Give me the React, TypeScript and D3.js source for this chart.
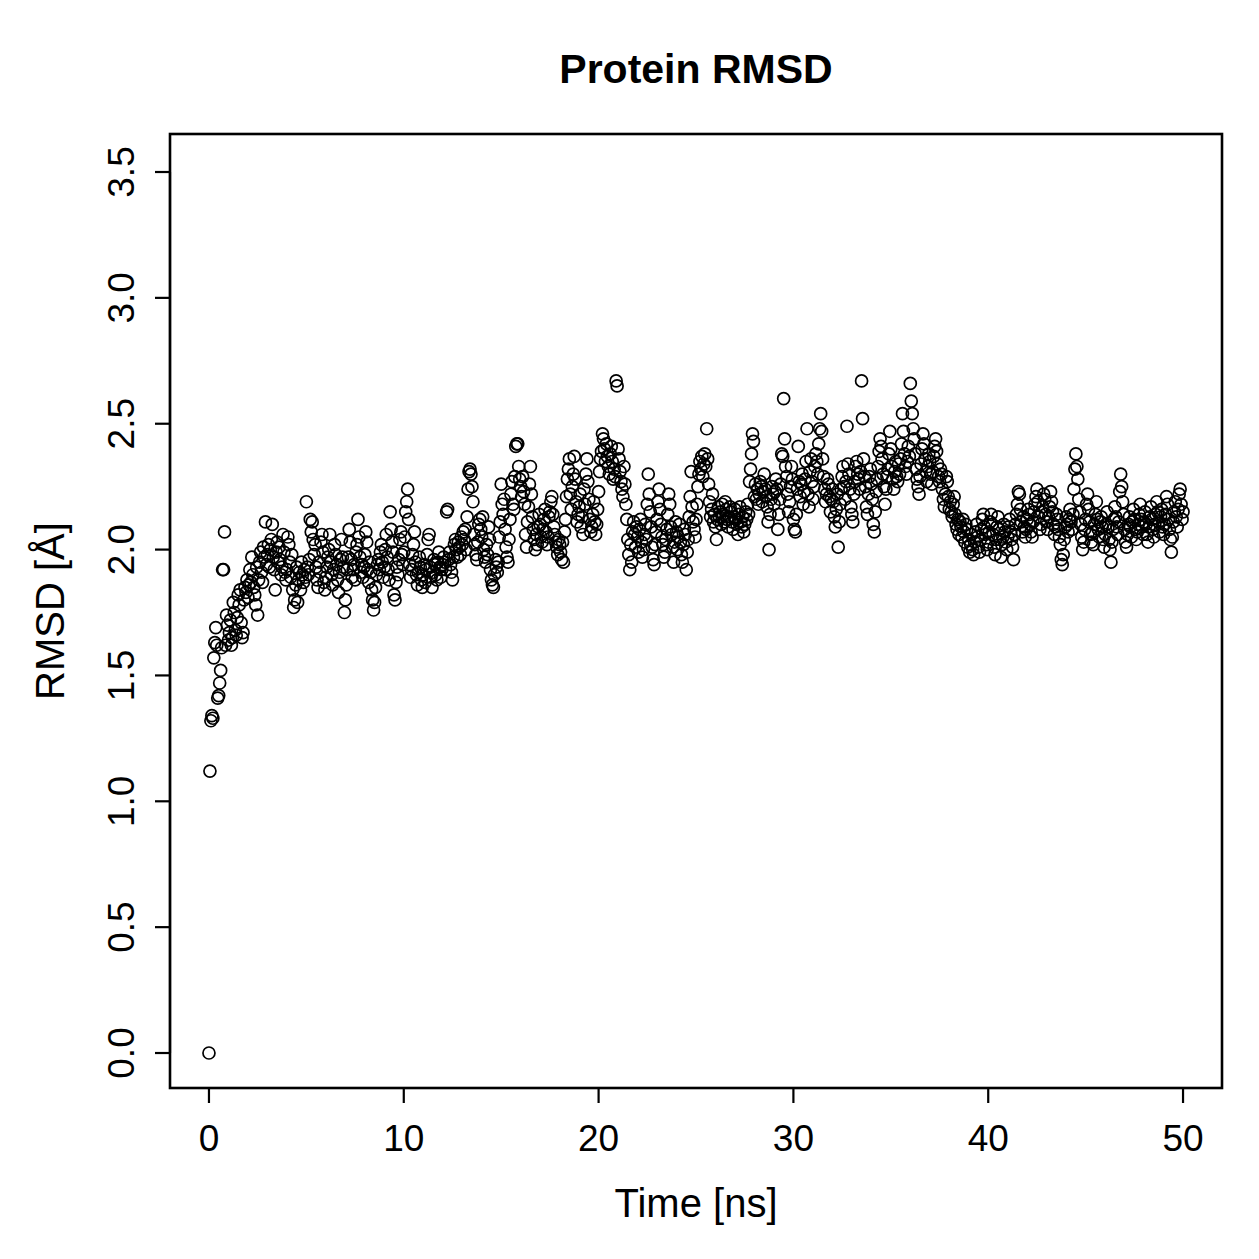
import React from "react";
import * as d3 from "d3";

// Simulation time step (ns) between RMSD frames
const TIME_STEP = 0.05;

// Backbone RMSD (Å) per frame, 20 frames per ns
const rmsd: number[] = [
  0.00,1.12,1.32,1.34,1.33,1.57,1.63,1.69,1.62,1.41,1.42,1.47,1.52,1.61,1.92,1.92,2.07,1.62,1.74,1.70,
  1.64,1.67,1.72,1.62,1.65,1.79,1.75,1.68,1.66,1.73,1.82,1.78,1.84,1.71,1.65,1.67,1.80,1.85,1.83,1.88,
  1.81,1.86,1.92,1.87,1.97,1.90,1.85,1.82,1.78,1.93,1.74,1.88,1.95,1.99,1.91,1.87,2.01,1.97,2.11,1.94,
  1.98,2.02,1.93,2.00,2.04,2.10,1.97,1.92,1.84,1.99,2.03,1.95,2.01,1.96,1.90,1.93,2.06,1.99,1.91,1.88,
  1.92,2.05,2.02,1.95,1.89,1.98,1.84,1.77,1.80,1.86,1.93,1.79,1.88,1.91,1.84,1.95,1.90,1.87,1.92,1.89,
  2.19,1.93,1.90,1.96,2.12,2.07,2.11,2.04,1.98,2.02,1.93,1.88,1.85,1.95,1.91,2.03,2.06,1.99,1.87,1.84,
  1.89,1.93,1.97,2.00,2.06,1.95,1.90,1.86,1.92,2.02,1.98,1.94,1.88,1.83,1.91,1.96,2.04,1.97,1.93,1.75,
  1.80,1.86,1.92,1.97,2.08,2.03,1.96,1.89,1.92,1.94,1.88,1.99,2.02,2.12,2.05,1.97,1.91,1.94,1.89,1.93,
  1.98,2.07,2.03,1.92,1.87,1.95,1.91,1.84,1.80,1.76,1.79,1.85,1.90,1.94,1.96,1.92,1.99,2.02,1.95,1.89,
  1.93,2.00,2.06,1.97,1.92,1.88,2.15,2.08,2.03,1.99,1.82,1.80,1.87,1.93,1.90,1.96,2.04,2.07,1.98,1.94,
  1.99,2.05,2.15,2.19,2.24,2.12,1.94,1.89,1.92,1.98,2.02,2.07,1.95,1.90,1.86,1.91,1.97,1.93,1.88,1.85,
  1.90,1.94,1.87,1.92,1.98,2.04,2.06,1.93,1.89,1.85,1.91,1.96,1.94,1.90,1.88,1.95,1.99,1.93,1.89,1.92,
  1.94,1.97,1.95,1.92,2.15,2.16,1.96,1.99,1.94,1.91,1.88,1.97,2.02,2.04,2.00,1.97,2.03,2.01,1.98,2.05,
  2.02,2.07,2.04,2.08,2.00,2.13,2.24,2.31,2.32,2.30,2.25,2.19,2.06,2.02,1.98,1.96,2.03,2.10,2.12,2.08,
  2.05,2.13,2.00,1.97,1.95,2.02,1.98,2.09,2.04,1.92,1.88,1.86,1.85,1.90,1.96,1.93,1.91,1.95,2.05,2.11,
  2.26,2.18,2.14,2.20,2.08,2.01,1.97,1.95,2.04,2.12,2.22,2.27,2.18,2.16,2.29,2.41,2.42,2.42,2.33,2.28,
  2.25,2.21,2.29,2.23,2.18,2.06,2.01,2.11,2.17,2.26,2.33,2.22,2.13,2.08,2.04,2.00,2.06,2.02,2.09,2.14,
  2.10,2.05,2.03,2.08,2.12,2.16,2.07,2.02,2.05,2.13,2.15,2.19,2.21,2.14,2.09,2.06,2.03,2.01,1.98,2.04,
  2.02,1.99,1.96,2.03,1.95,2.07,2.12,2.21,2.28,2.32,2.36,2.22,2.16,2.25,2.30,2.37,2.28,2.19,2.11,2.14,
  2.17,2.22,2.09,2.13,2.06,2.24,2.18,2.30,2.36,2.27,2.20,2.12,2.07,2.09,2.14,2.19,2.11,2.06,2.10,2.16,
  2.23,2.31,2.36,2.39,2.46,2.44,2.40,2.35,2.42,2.37,2.33,2.30,2.38,2.41,2.35,2.28,2.32,2.29,2.67,2.65,
  2.40,2.36,2.31,2.27,2.24,2.21,2.33,2.26,2.18,2.12,2.04,1.98,1.92,2.02,1.95,2.07,2.11,2.06,2.01,2.09,
  2.05,1.99,2.08,2.12,2.03,1.97,2.00,2.06,2.10,2.04,2.18,2.30,2.22,2.15,2.09,2.01,1.96,1.94,2.02,2.07,
  2.12,2.19,2.24,2.16,2.10,2.05,2.02,1.97,1.99,2.04,2.08,2.14,2.22,2.18,2.09,2.06,2.01,1.95,2.03,2.11,
  2.07,2.00,2.05,2.10,2.03,1.98,1.95,2.02,2.08,2.06,1.92,1.99,2.04,2.13,2.21,2.31,2.17,2.11,2.08,2.05,
  2.12,2.18,2.25,2.30,2.35,2.32,2.37,2.29,2.34,2.38,2.33,2.48,2.36,2.26,2.19,2.13,2.16,2.22,2.11,2.14,
  2.09,2.04,2.12,2.17,2.13,2.15,2.10,2.18,2.14,2.11,2.19,2.16,2.12,2.09,2.13,2.17,2.15,2.11,2.08,2.13,
  2.16,2.12,2.10,2.06,2.14,2.17,2.11,2.09,2.13,2.07,2.10,2.15,2.12,2.18,2.14,2.27,2.32,2.38,2.46,2.43,
  2.21,2.26,2.20,2.24,2.18,2.22,2.27,2.25,2.19,2.23,2.30,2.24,2.21,2.17,2.11,2.00,2.14,2.20,2.25,2.22,
  2.18,2.23,2.28,2.24,2.08,2.14,2.20,2.26,2.38,2.37,2.60,2.44,2.33,2.29,2.22,2.15,2.19,2.25,2.33,2.28,
  2.12,2.08,2.07,2.14,2.24,2.41,2.27,2.21,2.26,2.30,2.18,2.23,2.28,2.35,2.48,2.22,2.17,2.31,2.36,2.27,
  2.20,2.25,2.33,2.38,2.35,2.30,2.42,2.48,2.54,2.47,2.36,2.29,2.24,2.19,2.22,2.28,2.26,2.21,2.15,2.20,
  2.24,2.19,2.13,2.09,2.16,2.22,2.01,2.11,2.18,2.24,2.29,2.33,2.25,2.20,2.27,2.49,2.34,2.30,2.24,2.17,
  2.14,2.11,2.22,2.27,2.33,2.35,2.30,2.28,2.24,2.31,2.67,2.52,2.36,2.29,2.25,2.17,2.14,2.22,2.29,2.32,
  2.26,2.20,2.10,2.07,2.15,2.23,2.28,2.33,2.39,2.44,2.41,2.36,2.30,2.25,2.18,2.24,2.29,2.32,2.38,2.47,
  2.40,2.33,2.28,2.24,2.31,2.35,2.29,2.27,2.34,2.30,2.36,2.42,2.54,2.47,2.38,2.33,2.30,2.35,2.41,2.37,
  2.66,2.59,2.54,2.48,2.44,2.38,2.32,2.28,2.25,2.22,2.29,2.34,2.40,2.46,2.42,2.36,2.31,2.27,2.33,2.38,
  2.35,2.30,2.26,2.31,2.37,2.41,2.44,2.39,2.34,2.29,2.27,2.32,2.30,2.24,2.20,2.17,2.22,2.29,2.27,2.21,
  2.16,2.19,2.15,2.13,2.18,2.21,2.14,2.10,2.08,2.12,2.06,2.11,2.09,2.05,2.12,2.07,2.03,2.10,2.08,2.01,
  2.04,1.99,2.02,2.06,2.00,1.98,2.03,2.07,2.10,2.05,2.01,1.99,2.04,2.08,2.12,2.14,2.09,2.06,2.02,2.00,
  2.03,2.07,2.11,2.14,2.10,2.06,2.01,1.98,2.04,2.09,2.13,2.08,2.04,1.97,2.02,2.05,2.10,2.07,2.03,2.00,
  2.05,2.09,2.12,2.07,2.04,2.01,1.96,2.06,2.10,2.14,2.18,2.23,2.22,2.16,2.11,2.07,2.13,2.09,2.05,2.08,
  2.12,2.16,2.14,2.10,2.07,2.05,2.11,2.15,2.18,2.21,2.24,2.19,2.13,2.08,2.10,2.15,2.17,2.22,2.20,2.14,
  2.11,2.08,2.13,2.17,2.23,2.19,2.15,2.10,2.06,2.09,2.14,2.12,2.08,2.05,2.02,1.96,1.94,1.98,2.04,2.09,
  2.13,2.10,2.07,2.12,2.16,2.11,2.08,2.14,2.24,2.32,2.38,2.33,2.28,2.20,2.15,2.10,2.05,2.00,2.03,2.08,
  2.12,2.18,2.22,2.16,2.11,2.06,2.03,2.07,2.02,2.10,2.14,2.19,2.12,2.08,2.05,2.11,2.13,2.09,2.04,2.01,
  2.06,2.10,2.15,2.09,2.04,2.00,1.95,2.03,2.08,2.12,2.17,2.13,2.09,2.06,2.11,2.23,2.30,2.25,2.19,2.14,
  2.08,2.03,2.01,2.06,2.10,2.13,2.09,2.05,2.11,2.16,2.12,2.08,2.04,2.07,2.10,2.14,2.18,2.12,2.09,2.06,
  2.11,2.15,2.10,2.06,2.03,2.09,2.13,2.17,2.12,2.08,2.05,2.10,2.14,2.19,2.15,2.11,2.07,2.13,2.16,2.09,
  2.06,2.10,2.14,2.21,2.18,2.12,2.08,2.04,1.99,2.05,2.11,2.15,2.19,2.13,2.09,2.16,2.22,2.24,2.18,2.12,
  2.15,
];

const xTicks = [0, 10, 20, 30, 40, 50];
const yTicks = [0.0, 0.5, 1.0, 1.5, 2.0, 2.5, 3.0, 3.5];

const title = "Protein RMSD";
const xLabel = "Time [ns]";
const yLabel = "RMSD [Å]";

const W = 1259;
const H = 1259;
const plot = { left: 170, right: 1222, top: 134, bottom: 1088 };
const FONT = "'Liberation Sans', Arial, Helvetica, sans-serif";

export default function App() {
  const x = d3.scaleLinear().domain([-2, 52]).range([plot.left, plot.right]);
  const y = d3.scaleLinear().domain([-0.139, 3.651]).range([plot.bottom, plot.top]);

  const points = rmsd.map((v, i) => ({ t: i * TIME_STEP, v }));
  const tickLen = 15;

  return (
    <svg
      width={W}
      height={H}
      viewBox={`0 0 ${W} ${H}`}
      style={{ position: "absolute", left: 0, top: 0, background: "#fff" }}
    >
      <rect x={0} y={0} width={W} height={H} fill="#fff" />

      {/* data points */}
      <g fill="none" stroke="#000" strokeWidth={1.7}>
        {points.map((p, i) => (
          <circle key={i} cx={x(p.t)} cy={y(p.v)} r={6} />
        ))}
      </g>

      {/* plot frame */}
      <rect
        x={plot.left}
        y={plot.top}
        width={plot.right - plot.left}
        height={plot.bottom - plot.top}
        fill="none"
        stroke="#000"
        strokeWidth={2.6}
      />

      {/* x axis */}
      <g stroke="#000" strokeWidth={2.2}>
        <line x1={x(xTicks[0])} x2={x(xTicks[xTicks.length - 1])} y1={plot.bottom} y2={plot.bottom} />
        {xTicks.map((t) => (
          <line key={t} x1={x(t)} x2={x(t)} y1={plot.bottom} y2={plot.bottom + tickLen} />
        ))}
      </g>
      <g fontFamily={FONT} fontSize={37} textAnchor="middle" fill="#000">
        {xTicks.map((t) => (
          <text key={t} x={x(t)} y={1151}>
            {t}
          </text>
        ))}
      </g>

      {/* y axis */}
      <g stroke="#000" strokeWidth={2.2}>
        <line x1={plot.left} x2={plot.left} y1={y(yTicks[0])} y2={y(yTicks[yTicks.length - 1])} />
        {yTicks.map((t) => (
          <line key={t} x1={plot.left - tickLen} x2={plot.left} y1={y(t)} y2={y(t)} />
        ))}
      </g>
      <g fontFamily={FONT} fontSize={37} textAnchor="middle" fill="#000">
        {yTicks.map((t) => (
          <text key={t} transform={`translate(134,${y(t)}) rotate(-90)`}>
            {d3.format(".1f")(t)}
          </text>
        ))}
      </g>

      {/* labels */}
      <text
        x={(plot.left + plot.right) / 2}
        y={1217}
        fontFamily={FONT}
        fontSize={40}
        textAnchor="middle"
        fill="#000"
      >
        {xLabel}
      </text>
      <text
        transform={`translate(64,${(plot.top + plot.bottom) / 2}) rotate(-90)`}
        fontFamily={FONT}
        fontSize={40}
        textAnchor="middle"
        fill="#000"
      >
        {yLabel}
      </text>
      <text
        x={(plot.left + plot.right) / 2}
        y={83}
        fontFamily={FONT}
        fontSize={41}
        fontWeight="bold"
        textAnchor="middle"
        fill="#000"
      >
        {title}
      </text>
    </svg>
  );
}
